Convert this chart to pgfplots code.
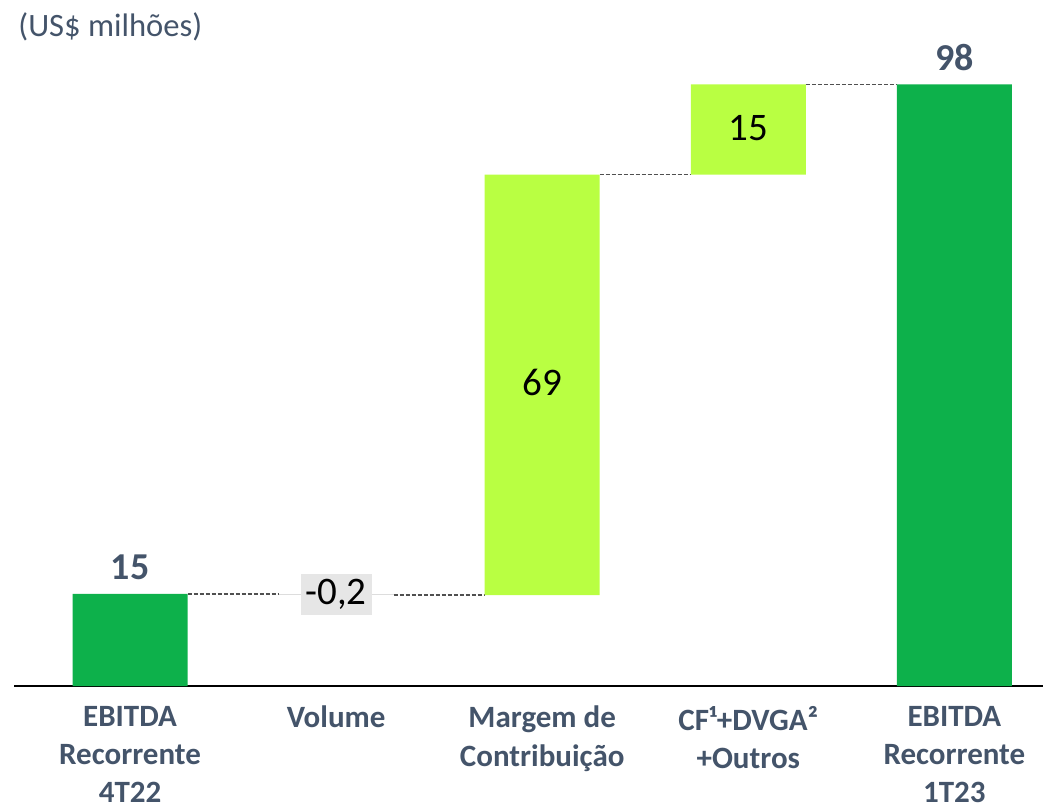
\documentclass[border=0pt]{standalone}
\usepackage{pgfplots}
\pgfplotsset{compat=1.18}
\usepackage{fontspec}
\setmainfont{Carlito}
\definecolor{dgreen}{HTML}{0DB14B}
\definecolor{lgreen}{HTML}{B9FF42}
\definecolor{vgray}{HTML}{DDDDDD}
\definecolor{lbox}{HTML}{E6E6E6}
\definecolor{txt}{HTML}{44546A}
\definecolor{conn}{HTML}{505050}
\begin{document}
\begin{tikzpicture}
\useasboundingbox (-7pt,-59.5pt) rectangle (514.5pt,343pt);
\begin{axis}[
  scale only axis, width=514.5pt, height=343pt,
  xmin=-0.563, xmax=4.43, ymin=0, ymax=111.73,
  axis x line*=bottom, axis y line=none,
  x axis line style={black, line width=1.1pt},
  ybar stacked, bar width=57.5pt,
  xtick={0,1,2,3,4}, major tick length=0pt,
  xticklabels={{EBITDA\\Recorrente\\4T22},{Volume},{Margem de\\Contribuição},{CF¹+DVGA²\\+Outros},{EBITDA\\Recorrente\\1T23}},
  xticklabel style={font=\fontsize{15.5}{19.2}\selectfont\bfseries, text=txt, align=center, anchor=north, yshift=-6.5pt},
  clip=false,
]
\addplot[draw=none, fill=none, forget plot] coordinates {(0,0) (1,14.8) (2,14.8) (3,83.3) (4,0)};
\addplot[draw=none, fill=dgreen] coordinates {(0,15) (1,0) (2,0) (3,0) (4,98)};
\addplot[draw=none, fill=vgray] coordinates {(0,0) (1,0.2) (2,0) (3,0) (4,0)};
\addplot[draw=none, fill=lgreen] coordinates {(0,0) (1,0) (2,68.5) (3,14.7) (4,0)};
% connectors
\addplot[stack plots=false, sharp plot, conn, line width=0.8pt, dash pattern=on 2pt off 1pt] coordinates {(0.279,15) (0.721,15)};
\addplot[stack plots=false, sharp plot, conn, line width=0.8pt, dash pattern=on 2pt off 1pt] coordinates {(1.279,14.8) (1.721,14.8)};
\addplot[stack plots=false, sharp plot, conn, line width=0.8pt, dash pattern=on 2pt off 1pt] coordinates {(2.279,83.3) (2.721,83.3)};
\addplot[stack plots=false, sharp plot, conn, line width=0.8pt, dash pattern=on 2pt off 1pt] coordinates {(3.279,98) (3.721,98)};
% label anchors
\coordinate (l0) at (axis cs:0,15);
\coordinate (l4) at (axis cs:4,98);
\coordinate (l2) at (axis cs:2,49.05);
\coordinate (l3) at (axis cs:3,90.65);
\coordinate (l1) at (axis cs:1,14.9);
\coordinate (tt) at (rel axis cs:0,1);
\end{axis}
\node[anchor=base, font=\fontsize{19}{22}\selectfont\bfseries, text=txt] at (l0) [yshift=7pt] {15};
\node[anchor=base, font=\fontsize{19}{22}\selectfont\bfseries, text=txt] at (l4) [yshift=7pt] {98};
\node[anchor=mid, font=\fontsize{19.5}{22}\selectfont] at (l2) [yshift=-3pt] {69};
\node[anchor=mid, font=\fontsize{19.5}{22}\selectfont] at (l3) [yshift=-3pt] {15};
\node[anchor=center, fill=lbox, inner xsep=2.5pt, inner ysep=0pt, minimum height=20.5pt, font=\fontsize{19.5}{22}\selectfont] at (l1) {-0,2};
\node[anchor=base west, inner sep=0pt, font=\fontsize{16.3}{19}\selectfont, text=txt] at (tt) [xshift=2pt, yshift=-18pt] {(US\$ milhões)};
\end{tikzpicture}
\end{document}
